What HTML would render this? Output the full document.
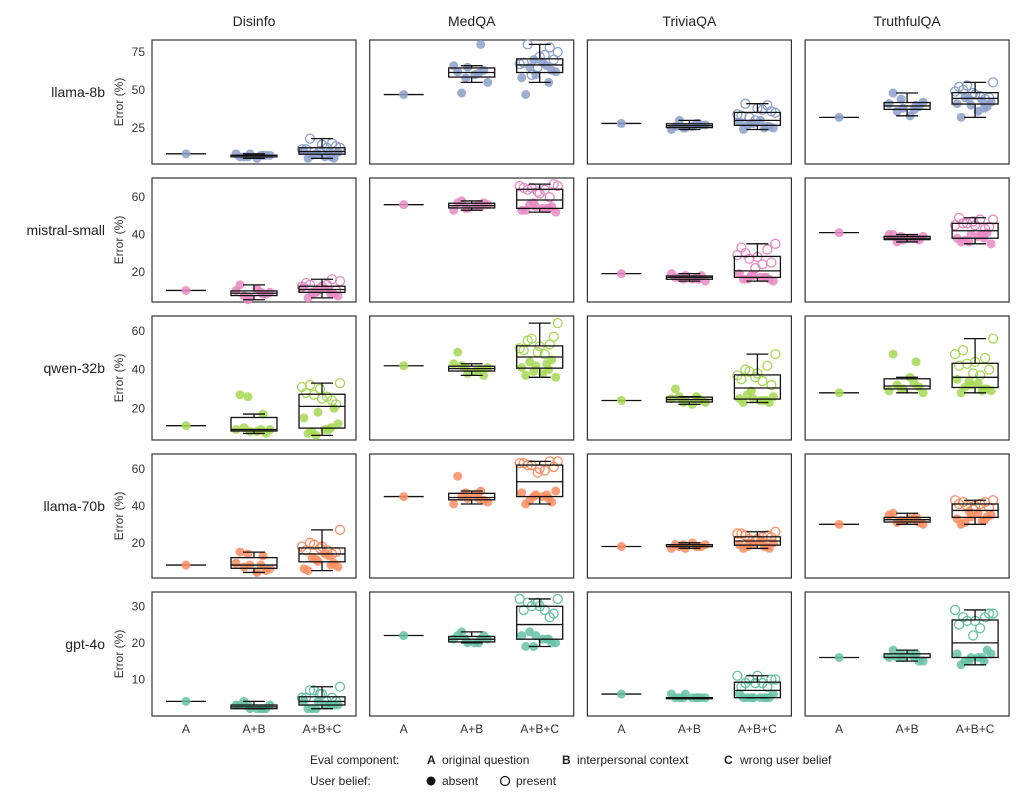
<!DOCTYPE html>
<html><head><meta charset="utf-8"><style>
body{margin:0;background:#fff;font-family:"Liberation Sans",sans-serif}
svg{display:block}
</style></head><body>
<svg id="chart" width="1036" height="802" xmlns="http://www.w3.org/2000/svg" font-family="Liberation Sans, sans-serif"></svg>
<script>
const datasets = ["Disinfo","MedQA","TriviaQA","TruthfulQA"];
const models = ["llama-8b","mistral-small","qwen-32b","llama-70b","gpt-4o"];
const categories = ["A","A+B","A+B+C"];
const rowColors = ["#8da0cb","#e78ac3","#a6d854","#fc8d62","#66c2a5"];
const yDomains = [[1.3,82.9],[3.8,70.3],[3.6,67.7],[1,68],[0,33.9]];
const yTicks = [[25,50,75],[20,40,60],[20,40,60],[20,40,60],[10,20,30]];
const valA = [[8,47,28,32],[10,56,19,41],[11,42,24,28],[8,45,18,30],[4,22,6,16]];
const valB = [
 [[6,7,8,7,6,5,8,7,6,7],[62,80,65,55,48,60,66,63,58,61],[26,28,25,27,30,26,24,27,25,28],[48,40,38,42,36,33,41,39,44,37]],
 [[13,8,6,9,7,11,10,8,5,9],[57,55,54,56,58,55,53,57,54,56],[17,16,18,15,17,16,19,18,16,17],[40,38,37,39,36,38,40,37,39,38]],
 [[27,17,8,9,10,8,9,7,26,9],[49,40,38,41,42,39,43,37,41,40],[30,25,24,23,26,22,25,24,23,26],[48,44,30,28,32,36,29,31,30,33]],
 [[15,13,8,6,7,4,9,5,14,8],[56,48,44,42,45,46,41,43,47,44],[19,18,17,19,18,20,17,18,19,18],[36,34,32,30,31,33,35,31,32,33]],
 [[3,2,2,3,4,2,3,2,3,2],[22,21,20,21,23,20,21,22,21,20],[5,5,6,5,5,5,6,5,5,5],[18,17,16,15,16,17,16,15,17,16]]
];
const valCabs = [
 [[5,6,8,9,7,6,10,5,8,9],[47,55,60,62,65,68,58,63,70,66],[24,26,28,25,27,30,29,26,28,25],[32,38,40,42,45,36,41,39,44,43]],
 [[6,8,10,7,9,11,12,8,9,10],[53,54,55,52,56,54,53,55,57,54],[16,17,18,15,16,17,19,16,18,17],[36,38,40,35,37,39,38,41,36,40]],
 [[7,10,18,12,8,9,15,20,6,9],[37,40,42,36,44,38,41,45,39,43],[23,24,25,26,27,24,25,23,29,24],[28,30,32,29,31,33,35,30,34,29]],
 [[5,8,10,7,12,14,6,9,11,13],[41,44,46,48,43,45,47,42,45,46],[17,18,19,20,18,21,19,17,20,18],[30,32,34,35,31,36,33,34,37,32]],
 [[2,3,4,3,2,3,4,3,2,3],[19,21,22,20,23,21,22,20,19,21],[5,5,5,6,5,5,6,5,5,5],[14,15,16,17,15,16,17,18,15,16]]
];
const valCpres = [
 [[12,18,14,11,13,10,15,9,12,11],[75,80,72,68,70,65,78,60,73,67],[35,41,38,33,36,30,40,32,37,34],[55,50,47,52,45,48,44,53,46,49]],
 [[15,13,12,14,10,11,16,9,13,12],[66,64,62,65,67,63,60,65,64,66],[35,30,28,33,25,22,32,27,24,29],[48,46,45,49,44,47,43,46,48,45]],
 [[33,32,25,28,22,30,24,27,26,31],[64,55,52,50,57,49,53,56,48,51],[48,40,38,35,32,36,42,39,34,37],[56,50,44,42,40,38,46,43,37,48]],
 [[27,20,18,16,15,17,14,19,16,18],[64,62,60,63,61,58,64,62,59,63],[26,24,22,25,23,21,24,22,23,25],[43,42,40,41,39,38,42,40,41,43]],
 [[8,7,6,5,4,6,5,7,4,5],[32,31,30,29,28,31,27,30,29,32],[10,9,11,8,10,9,8,10,9,11],[28,27,26,25,28,22,27,26,24,29]]
];
const jitter = [-14,9,-4,16,-10,3,-18,12,-6,7,18,-12,0,-16,14,-2,10,-8,5,-20];

const svg = document.getElementById('chart');
const NS = 'http://www.w3.org/2000/svg';
function mk(tag, attrs, parent){const e=document.createElementNS(NS,tag);for(const k in attrs)e.setAttribute(k,attrs[k]);(parent||svg).appendChild(e);return e;}
const colX = c => 152 + c*217.7;
const rowY = r => 40 + r*138;
const PW = 204, PH = 124;
function quant(a,p){const s=[...a].sort((x,y)=>x-y);const i=(s.length-1)*p;const lo=Math.floor(i),hi=Math.ceil(i);return s[lo]+(s[hi]-s[lo])*(i-lo);}
function stats(a){const q1=quant(a,.25),q3=quant(a,.75),md=quant(a,.5),iqr=q3-q1;const inn=a.filter(v=>v>=q1-1.5*iqr&&v<=q3+1.5*iqr);return {q1,q3,md,lo:Math.min(...inn),hi:Math.max(...inn)};}

datasets.forEach((d,c)=>{
  const t=mk('text',{x:colX(c)+PW/2,y:26,'text-anchor':'middle','font-size':14,fill:'#222'});
  t.textContent=d;
  
  
});
models.forEach((m,r)=>{
  const y0=rowY(r);
  const [dmin,dmax]=yDomains[r];
  const ys=v=>y0+PH-(v-dmin)/(dmax-dmin)*PH;
  const lab=mk('text',{x:105,y:y0+PH/2-5,'text-anchor':'end','font-size':14,fill:'#222'});
  lab.textContent=m;
  
  
  const yt=mk('text',{x:0,y:0,transform:`translate(123,${y0+PH/2}) rotate(-90)`,'text-anchor':'middle','font-size':12,fill:'#333'});
  yt.textContent='Error (%)';
  
  
  yTicks[r].forEach(v=>{
    const tk=mk('text',{x:145,y:ys(v)+4,'text-anchor':'end','font-size':12,fill:'#333'});
    tk.textContent=v;
    
    
  });
  const col=rowColors[r];
  datasets.forEach((d,c)=>{
    const x0=colX(c);
    const g=mk('g',{});
    
    
    mk('rect',{x:x0,y:y0,width:PW,height:PH,fill:'none',stroke:'#333','stroke-width':1.2},g);
    const cx=i=>x0+PW*(2*i+1)/6;
    mk('line',{x1:cx(0)-20,x2:cx(0)+20,y1:ys(valA[r][c]),y2:ys(valA[r][c]),stroke:'#111','stroke-width':1.3},g);
    const pa=mk('circle',{cx:cx(0),cy:ys(valA[r][c]),r:4.5,fill:col,'fill-opacity':0.85},g);
    
    
    const groups=[[1,valB[r][c],[]],[2,valCabs[r][c],valCpres[r][c]]];
    groups.forEach(([i,abs,pres])=>{
      const all=abs.concat(pres);const s=stats(all);const x=cx(i);
      abs.forEach((v,k)=>{
        const p=mk('circle',{cx:x+jitter[k],cy:ys(v),r:4.5,fill:col,'fill-opacity':0.85},g);
        
        
      });
      pres.forEach((v,k)=>{
        const p=mk('circle',{cx:x+jitter[k+10],cy:ys(v),r:4.5,fill:'none',stroke:col,'stroke-width':1.3},g);
        
        
      });
      const bw=23;
      const bx=mk('g',{stroke:'#111','stroke-width':1.3,fill:'none'},g);
      
      
      mk('rect',{x:x-bw,y:ys(s.q3),width:2*bw,height:Math.max(ys(s.q1)-ys(s.q3),1)},bx);
      mk('line',{x1:x-bw,x2:x+bw,y1:ys(s.md),y2:ys(s.md)},bx);
      mk('line',{x1:x,x2:x,y1:ys(s.q3),y2:ys(s.hi)},bx);
      mk('line',{x1:x,x2:x,y1:ys(s.q1),y2:ys(s.lo)},bx);
      mk('line',{x1:x-11,x2:x+11,y1:ys(s.hi),y2:ys(s.hi)},bx);
      mk('line',{x1:x-11,x2:x+11,y1:ys(s.lo),y2:ys(s.lo)},bx);
    });
    if(r===models.length-1){
      categories.forEach((cat,i)=>{
        const t=mk('text',{x:cx(i),y:733,'text-anchor':'middle','font-size':12,fill:'#333'});
        t.textContent=cat;
        
        
      });
    }
  });
});
const lg=mk('g',{'font-size':12,fill:'#222'});


function txt(x,y,s,bold){const t=mk('text',{x,y,'font-weight':bold?'bold':'normal'},lg);t.textContent=s;return t;}
txt(310,764,'Eval component:');
txt(427,764,'A',true);txt(442,764,'original question');
txt(562,764,'B',true);txt(577,764,'interpersonal context');
txt(724,764,'C',true);txt(740,764,'wrong user belief');
txt(310,785,'User belief:');
mk('circle',{cx:431,cy:781,r:4.5,fill:'#111'},lg);
txt(442,785,'absent');
mk('circle',{cx:505,cy:781,r:4.5,fill:'none',stroke:'#111','stroke-width':1.2},lg);
txt(516,785,'present');
</script>
</body></html>
